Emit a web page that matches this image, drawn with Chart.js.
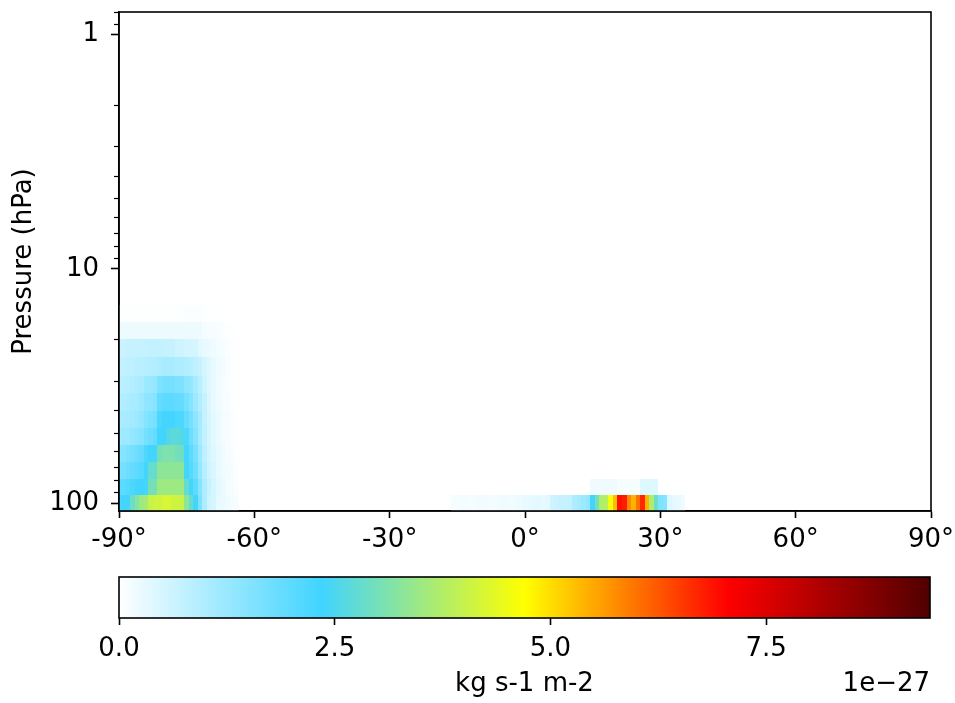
<!DOCTYPE html>
<html>
<head>
<meta charset="utf-8">
<script src="https://cdn.jsdelivr.net/npm/chart.js@4.4.1/dist/chart.umd.min.js"></script>
<style>
body { margin: 0; background: #fff; }
#wrap { position: relative; width: 955px; height: 703px; }
#wrap canvas { position: absolute; left: 0; top: 0; }
</style>
</head>
<body>
<div id="wrap">
  <canvas id="field" width="955" height="703"></canvas>
  <canvas id="cbar" width="955" height="703"></canvas>
</div>
<script>
// pressure layer edges (hPa), lowest layer first
const pressureEdges = [108, 92.4, 78.9, 67.0, 56.5, 47.9, 40.4, 34.0, 28.6, 23.8, 20.0, 16.8, 14.2];

// southern polar block, one row per layer, latitudes -90 .. -64 (1 deg), units 1e-27
const southLat0 = -90;
const southRows = [
  [2.2, 2.3, 2.4, 2.9, 3.2, 3.5, 3.6, 4.0, 4.1, 4.1, 4.2, 4.2, 4.1, 4.1, 4.0, 3.3, 2.8, 2.3, 1.6, 1.0, 0.6, 0.5, 0.3, 0.25, 0.2, 0.15, 0.1],
  [2.0, 2.0, 2.1, 2.2, 2.3, 2.35, 2.4, 3.0, 3.0, 3.5, 3.5, 3.5, 3.5, 3.5, 3.5, 2.8, 2.4, 2.0, 1.5, 1.0, 0.7, 0.5, 0.35, 0.25, 0.15, 0.1, 0.05],
  [1.6, 1.7, 1.8, 1.9, 2.0, 2.1, 2.3, 2.8, 2.8, 3.3, 3.3, 3.3, 3.3, 3.3, 3.3, 2.4, 2.1, 1.8, 1.3, 0.9, 0.6, 0.45, 0.3, 0.2, 0.15, 0.1, 0.05],
  [1.4, 1.5, 1.6, 1.7, 1.8, 1.9, 2.2, 2.3, 2.3, 3.0, 3.1, 3.1, 3.1, 3.0, 2.9, 2.3, 2.0, 1.7, 1.2, 0.8, 0.55, 0.4, 0.3, 0.2, 0.1, 0.08, 0.04],
  [1.1, 1.2, 1.2, 1.3, 1.4, 1.5, 1.7, 1.8, 1.9, 2.3, 2.35, 2.6, 2.7, 2.7, 2.6, 2.2, 1.8, 1.5, 1.1, 0.75, 0.5, 0.35, 0.25, 0.15, 0.1, 0.06, 0.03],
  [1.0, 1.05, 1.1, 1.15, 1.2, 1.3, 1.5, 1.6, 1.7, 2.2, 2.3, 2.3, 2.3, 2.2, 2.2, 1.9, 1.7, 1.4, 1.1, 0.7, 0.5, 0.35, 0.25, 0.15, 0.1, 0.05, 0.03],
  [0.9, 0.95, 1.0, 1.05, 1.1, 1.2, 1.35, 1.4, 1.5, 1.9, 2.0, 2.0, 2.0, 1.95, 1.9, 1.7, 1.5, 1.2, 0.95, 0.7, 0.45, 0.3, 0.2, 0.12, 0.08, 0.04, 0.02],
  [0.85, 0.85, 0.9, 0.95, 1.0, 1.05, 1.2, 1.25, 1.3, 1.6, 1.7, 1.7, 1.7, 1.6, 1.6, 1.4, 1.3, 1.1, 0.85, 0.6, 0.4, 0.28, 0.18, 0.1, 0.06, 0.03, 0.02],
  [0.75, 0.75, 0.8, 0.8, 0.85, 0.85, 0.9, 0.95, 0.95, 1.0, 1.05, 1.05, 1.05, 1.0, 1.0, 0.95, 0.9, 0.8, 0.7, 0.5, 0.4, 0.3, 0.2, 0.15, 0.08, 0.04, 0.02],
  [0.65, 0.65, 0.7, 0.7, 0.7, 0.72, 0.72, 0.75, 0.75, 0.75, 0.72, 0.7, 0.7, 0.6, 0.6, 0.55, 0.55, 0.5, 0.35, 0.3, 0.25, 0.2, 0.15, 0.1, 0.06, 0.03, 0.02],
  [0.22, 0.22, 0.22, 0.22, 0.22, 0.22, 0.22, 0.22, 0.22, 0.22, 0.22, 0.22, 0.22, 0.22, 0.22, 0.22, 0.22, 0.22, 0.22, 0.15, 0.12, 0.1, 0.08, 0.05, 0.03, 0.02, 0.01],
  [0.02, 0.02, 0.02, 0.02, 0.02, 0.02, 0.02, 0.02, 0.02, 0.02, 0.02, 0.02, 0.02, 0.02, 0.02, 0.05, 0.05, 0.05, 0.05, 0.02, 0.01, 0.01, 0.0, 0.0, 0.0, 0.0, 0.0]
];

// tropical band, lowest layer, latitudes -16 .. 35
const tropicLat0 = -16;
const tropicLow = [
  0.12, 0.12, 0.15, 0.15, 0.12, 0.15, 0.18, 0.18, 0.15, 0.15, 0.18, 0.2, 0.2, 0.18, 0.2, 0.22,
  0.3, 0.3, 0.35, 0.35, 0.3, 0.35,
  0.6, 0.65, 0.7, 0.7, 0.75,
  1.0, 1.1, 1.2, 1.3,
  2.35, 3.0, 3.7, 3.8, 4.6, 5.3, 6.9, 6.8, 5.8, 5.4, 6.0, 6.7, 5.4, 3.7, 2.9, 1.6, 1.5,
  0.4, 0.35, 0.3, 0.2
];
// tropical band, second layer, latitudes 15 .. 29
const tropicUpperLat0 = 15;
const tropicUpper = [0.2, 0.2, 0.2, 0.2, 0.2, 0.2, 0.12, 0.12, 0.12, 0.12, 0.12, 0.4, 0.4, 0.4, 0.4];

const latTicks = [-90, -60, -30, 0, 30, 60, 90];
const pressureMajor = [1, 10, 100];
const pressureMinor = [0.8, 0.9, 2, 3, 4, 5, 6, 7, 8, 9, 20, 30, 40, 50, 60, 70, 80, 90];
const cbarTicks = [0, 2.5, 5.0, 7.5];
const vmax = 9.4;

const cmapStops = [0, 0.25, 0.5, 0.75, 1];
const cmapColors = [[255, 255, 255], [64, 212, 255], [255, 255, 0], [255, 0, 0], [80, 0, 0]];

const FONT = { family: 'DejaVu Sans', size: 26 };

function colorFor(v) {
  let t = Math.max(0, Math.min(1, v / vmax));
  for (let i = 1; i < cmapStops.length; i++) {
    if (t <= cmapStops[i]) {
      const f = (t - cmapStops[i - 1]) / (cmapStops[i] - cmapStops[i - 1]);
      const a = cmapColors[i - 1], b = cmapColors[i];
      return `rgb(${Math.round(a[0] + (b[0] - a[0]) * f)},${Math.round(a[1] + (b[1] - a[1]) * f)},${Math.round(a[2] + (b[2] - a[2]) * f)})`;
    }
  }
  return 'rgb(80,0,0)';
}

// list of cells: [lat, layer, value]
function buildCells() {
  const cells = [];
  southRows.forEach((row, k) => row.forEach((v, i) => cells.push([southLat0 + i, k, v])));
  tropicLow.forEach((v, i) => cells.push([tropicLat0 + i, 0, v]));
  tropicUpper.forEach((v, i) => cells.push([tropicUpperLat0 + i, 1, v]));
  return cells;
}

const meshPlugin = {
  id: 'mesh',
  beforeDatasetsDraw(chart) {
    const { ctx, chartArea, scales: { x, y } } = chart;
    ctx.save();
    ctx.beginPath();
    ctx.rect(chartArea.left, chartArea.top, chartArea.right - chartArea.left, chartArea.bottom - chartArea.top);
    ctx.clip();
    buildCells().forEach(([lat, k, v]) => {
      if (v <= 0) return;
      const x0 = Math.round(x.getPixelForValue(Math.max(-90, lat - 0.5)));
      const x1 = Math.round(x.getPixelForValue(Math.min(90, lat + 0.5)));
      const ya = Math.round(y.getPixelForValue(pressureEdges[k]));
      const yb = Math.round(y.getPixelForValue(pressureEdges[k + 1]));
      ctx.fillStyle = colorFor(v);
      ctx.fillRect(x0, Math.min(ya, yb), x1 - x0, Math.abs(yb - ya));
    });
    ctx.restore();
  },
  afterDraw(chart) {
    const { ctx, chartArea, scales: { y } } = chart;
    ctx.save();
    ctx.strokeStyle = '#000';
    ctx.lineWidth = 1.2;
    pressureMinor.forEach(p => {
      const py = Math.round(y.getPixelForValue(p)) + 0.5;
      ctx.beginPath();
      ctx.moveTo(chartArea.left - 5, py);
      ctx.lineTo(chartArea.left, py);
      ctx.stroke();
    });
    ctx.lineWidth = 1.6;
    ctx.strokeRect(chartArea.left, chartArea.top, chartArea.right - chartArea.left, chartArea.bottom - chartArea.top);
    ctx.restore();
  }
};

new Chart(document.getElementById('field'), {
  type: 'scatter',
  data: { datasets: [{ data: [] }] },
  options: {
    responsive: false,
    animation: false,
    events: [],
    layout: { padding: { left: 0, top: 12, right: 24, bottom: 152 } },
    plugins: { legend: { display: false }, tooltip: { enabled: false } },
    scales: {
      x: {
        type: 'linear', min: -90, max: 90,
        afterBuildTicks: s => { s.ticks = latTicks.map(v => ({ value: v })); },
        afterFit: s => { s.height = 40; s.paddingLeft = 0; s.paddingRight = 0; },
        ticks: { callback: v => v + '°', font: FONT, color: '#000', padding: 6.5, maxRotation: 0, autoSkip: false },
        grid: { drawOnChartArea: false, tickLength: 7, tickWidth: 1.6, color: '#000' },
        border: { display: true, color: '#000', width: 1.6 }
      },
      y: {
        type: 'logarithmic', reverse: true, min: 0.8, max: 108,
        afterBuildTicks: s => { s.ticks = pressureMajor.map(v => ({ value: v, major: true })); },
        afterFit: s => { s.width = 119; s.paddingTop = 0; s.paddingBottom = 0; },
        ticks: { callback: v => String(v), font: FONT, color: '#000', padding: 12, autoSkip: false },
        grid: { drawOnChartArea: false, tickLength: 8, tickWidth: 1.6, color: '#000' },
        border: { display: true, color: '#000', width: 1.6 },
        title: { display: true, text: 'Pressure (hPa)', font: FONT, color: '#000', padding: { top: 9, bottom: 0 } }
      }
    }
  },
  plugins: [meshPlugin]
});

const cbarPlugin = {
  id: 'cbarFill',
  beforeDatasetsDraw(chart) {
    const { ctx, chartArea: a } = chart;
    const g = ctx.createLinearGradient(a.left, 0, a.right, 0);
    cmapStops.forEach((s, i) => g.addColorStop(s, `rgb(${cmapColors[i].join(',')})`));
    ctx.save();
    ctx.fillStyle = g;
    ctx.fillRect(a.left, a.top, a.right - a.left, a.bottom - a.top);
    ctx.restore();
  },
  afterDraw(chart) {
    const { ctx, chartArea: a } = chart;
    ctx.save();
    ctx.strokeStyle = '#000';
    ctx.lineWidth = 1.6;
    ctx.strokeRect(a.left, a.top, a.right - a.left, a.bottom - a.top);
    ctx.fillStyle = '#000';
    ctx.font = '26px "DejaVu Sans"';
    ctx.textAlign = 'right';
    ctx.textBaseline = 'alphabetic';
    ctx.fillText('1e\u221227', a.right, 691);
    ctx.restore();
  }
};

new Chart(document.getElementById('cbar'), {
  type: 'scatter',
  data: { datasets: [{ data: [] }] },
  options: {
    responsive: false,
    animation: false,
    events: [],
    layout: { padding: { left: 119, top: 577, right: 25, bottom: 3 } },
    plugins: { legend: { display: false }, tooltip: { enabled: false } },
    scales: {
      x: {
        type: 'linear', min: 0, max: vmax,
        afterBuildTicks: s => { s.ticks = cbarTicks.map(v => ({ value: v })); },
        afterFit: s => { s.height = 82; s.paddingLeft = 0; s.paddingRight = 0; },
        ticks: { callback: v => v.toFixed(1), font: FONT, color: '#000', padding: 9, maxRotation: 0, autoSkip: false },
        grid: { drawOnChartArea: false, tickLength: 7, tickWidth: 1.6, color: '#000' },
        border: { display: false },
        title: { display: true, text: 'kg s-1 m-2', font: FONT, color: '#000', padding: 0 }
      },
      y: { display: false, min: 0, max: 1 }
    }
  },
  plugins: [cbarPlugin]
});
</script>
</body>
</html>
